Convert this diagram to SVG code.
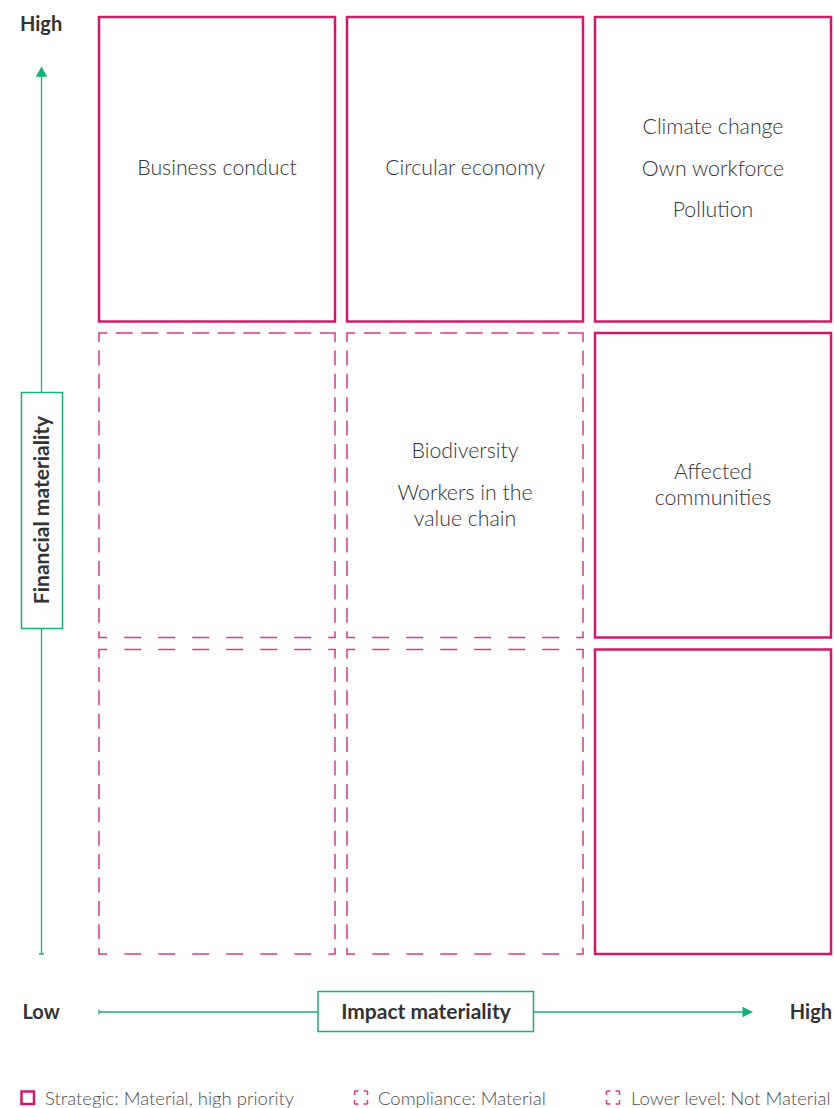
<svg xmlns="http://www.w3.org/2000/svg" width="834" height="1108" viewBox="0 0 834 1108">
<style>
.solid{fill:none;stroke:#d0196d;stroke-width:2.5}
.dh{fill:none;stroke:#d83a85;stroke-width:1.5;stroke-dasharray:17 17;stroke-dashoffset:8}
.dht{stroke-dasharray:17 8.5}
.dv{fill:none;stroke:#d83a85;stroke-width:1.5;stroke-dasharray:15 8.4;stroke-dashoffset:6}
.axis{fill:none;stroke:#16af78;stroke-width:1.3}
.head{fill:#16af78;stroke:none}
.axbox{fill:#fff;stroke:#16af78;stroke-width:1.5}
.lbl{font-family:Lato,"Open Sans","Liberation Sans",sans-serif;font-weight:700;font-size:20px;fill:#333}
.big{font-size:21px}
.cell{font-family:Lato,"Open Sans","Liberation Sans",sans-serif;font-weight:300;font-size:21.3px;fill:#333;text-anchor:middle}
.leg{font-family:Lato,"Open Sans","Liberation Sans",sans-serif;font-weight:300;font-size:18.5px;fill:#4d4d4d}
.legdash{fill:none;stroke:#d83a85;stroke-width:1.5;stroke-dasharray:4 5 4 0}
</style>

<g id="cell-business-conduct">
<rect class="solid" x="99" y="17" width="236" height="304.5"/>
<text class="cell" x="217" y="175">Business conduct</text>
</g>
<g id="cell-circular-economy">
<rect class="solid" x="347" y="17" width="236" height="304.5"/>
<text class="cell" x="465" y="175">Circular economy</text>
</g>
<g id="cell-high-high">
<rect class="solid" x="595" y="17" width="236" height="304.5"/>
<text class="cell" x="713" y="134">Climate change</text>
<text class="cell" x="713" y="175.5">Own workforce</text>
<text class="cell" x="713" y="217">Pollution</text>
</g>

<g id="cell-low-mid">
<line class="dh dht" x1="98.25" y1="333" x2="335.75" y2="333"/>
<line class="dh" x1="98.25" y1="637.5" x2="335.75" y2="637.5"/>
<line class="dv" x1="99" y1="333" x2="99" y2="637.5"/>
<line class="dv" x1="335" y1="333" x2="335" y2="637.5"/>
</g>
<g id="cell-biodiversity">
<line class="dh dht" x1="346.25" y1="333" x2="583.75" y2="333"/>
<line class="dh" x1="346.25" y1="637.5" x2="583.75" y2="637.5"/>
<line class="dv" x1="347" y1="333" x2="347" y2="637.5"/>
<line class="dv" x1="583" y1="333" x2="583" y2="637.5"/>
<text class="cell" x="465" y="458">Biodiversity</text>
<text class="cell" x="465" y="500">Workers in the</text>
<text class="cell" x="465" y="525.5">value chain</text>
</g>
<g id="cell-affected-communities">
<rect class="solid" x="595" y="333" width="236" height="304.5"/>
<text class="cell" x="713" y="479">Affected</text>
<text class="cell" x="713" y="505">communities</text>
</g>

<g id="cell-low-low">
<line class="dh" x1="98.25" y1="649.5" x2="335.75" y2="649.5"/>
<line class="dh" x1="98.25" y1="954" x2="335.75" y2="954"/>
<line class="dv" x1="99" y1="649.5" x2="99" y2="954"/>
<line class="dv" x1="335" y1="649.5" x2="335" y2="954"/>
</g>
<g id="cell-mid-low">
<line class="dh" x1="346.25" y1="649.5" x2="583.75" y2="649.5"/>
<line class="dh" x1="346.25" y1="954" x2="583.75" y2="954"/>
<line class="dv" x1="347" y1="649.5" x2="347" y2="954"/>
<line class="dv" x1="583" y1="649.5" x2="583" y2="954"/>
</g>
<g id="cell-high-low">
<rect class="solid" x="595" y="649.5" width="236" height="304.5"/>
</g>

<g id="connectors">
<path class="axis" d="M41.5,76 V954 M39,954 H44"/>
<polygon class="head" points="41.5,66.5 35.8,76.8 47.2,76.8"/>
<path class="axis" d="M99,1012 H743 M99,1009.5 V1014.5"/>
<polygon class="head" points="753,1012 742.5,1006.8 742.5,1017.2"/>
</g>

<g id="axis-financial">
<rect class="axbox" x="21.5" y="392.5" width="41" height="236"/>
<text class="lbl big" x="48.5" y="510" text-anchor="middle" transform="rotate(-90 48.5 510)">Financial materiality</text>
</g>
<g id="axis-impact">
<rect class="axbox" x="318" y="991.5" width="215.5" height="40"/>
<text class="lbl big" x="426" y="1019" text-anchor="middle">Impact materiality</text>
</g>

<g id="axis-labels">
<text class="lbl" x="20" y="31">High</text>
<text class="lbl" x="22.5" y="1019">Low</text>
<text class="lbl" x="832" y="1019" text-anchor="end">High</text>
</g>

<g id="legend">
<rect class="solid" x="21.5" y="1091.5" width="12.5" height="12.5"/>
<text class="leg" x="45" y="1105">Strategic: Material, high priority</text>
<rect class="legdash" x="354.5" y="1091" width="13" height="13"/>
<text class="leg" x="378" y="1105">Compliance: Material</text>
<rect class="legdash" x="606.5" y="1091" width="13" height="13"/>
<text class="leg" x="631" y="1105">Lower level: Not Material</text>
</g>
</svg>
